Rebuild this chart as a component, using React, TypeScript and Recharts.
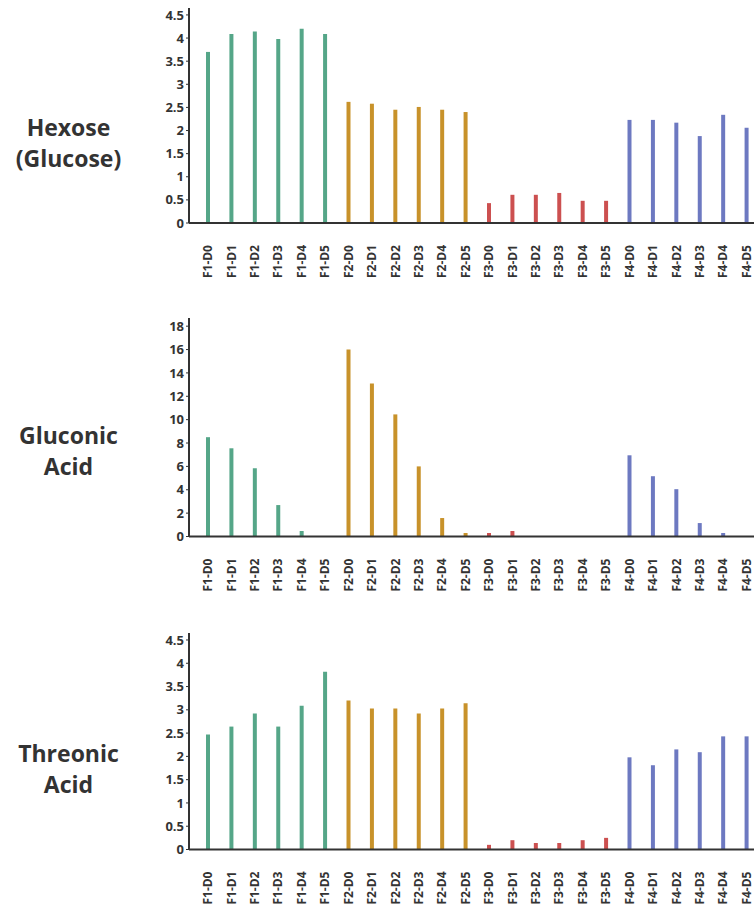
import { BarChart, Bar, XAxis, YAxis, Cell } from "recharts";

const categories = [
  "F1-D0", "F1-D1", "F1-D2", "F1-D3", "F1-D4", "F1-D5",
  "F2-D0", "F2-D1", "F2-D2", "F2-D3", "F2-D4", "F2-D5",
  "F3-D0", "F3-D1", "F3-D2", "F3-D3", "F3-D4", "F3-D5",
  "F4-D0", "F4-D1", "F4-D2", "F4-D3", "F4-D4", "F4-D5",
];

const hexose = [
  3.7, 4.09, 4.14, 3.98, 4.2, 4.09,
  2.62, 2.58, 2.45, 2.51, 2.45, 2.4,
  0.43, 0.61, 0.61, 0.65, 0.48, 0.48,
  2.23, 2.23, 2.17, 1.88, 2.34, 2.06,
];

const gluconic = [
  8.5, 7.55, 5.85, 2.69, 0.47, 0,
  16.0, 13.1, 10.45, 6.0, 1.58, 0.3,
  0.3, 0.47, 0, 0, 0, 0,
  6.95, 5.16, 4.05, 1.15, 0.3, 0,
];

const threonic = [
  2.47, 2.64, 2.92, 2.64, 3.09, 3.82,
  3.2, 3.03, 3.03, 2.92, 3.03, 3.14,
  0.1, 0.2, 0.14, 0.14, 0.2, 0.25,
  1.98, 1.81, 2.15, 2.09, 2.43, 2.43,
];

const halfTicks = [0, 0.5, 1, 1.5, 2, 2.5, 3, 3.5, 4, 4.5];
const evenTicks = [0, 2, 4, 6, 8, 10, 12, 14, 16, 18];

const groupColors: Record<string, string> = {
  F1: "#55A688",
  F2: "#C8922A",
  F3: "#CC5050",
  F4: "#6D79C1",
};

const FONT = "'Open Sans', sans-serif";
const INK = "#333";

function XTick({ x, y, payload }: any) {
  return (
    <text
      x={x}
      y={y}
      transform={`rotate(-90, ${x}, ${y})`}
      textAnchor="end"
      dominantBaseline="central"
      fontFamily={FONT}
      fontWeight={700}
      fontSize={12}
      fill={INK}
    >
      {payload.value}
    </text>
  );
}

function Panel({ top, title, values, ticks, yMax, plotHeight, titleTop }: any) {
  const data = categories.map((c, i) => ({ name: c, value: values[i] }));
  return (
    <>
      <div
        style={{
          position: "absolute",
          top: titleTop,
          left: 0,
          width: 137,
          textAlign: "center",
          fontFamily: FONT,
          fontWeight: 700,
          fontSize: 23,
          lineHeight: "31px",
          color: INK,
        }}
      >
        {title.map((t: string) => (
          <div key={t}>{t}</div>
        ))}
      </div>
      <div style={{ position: "absolute", top, left: 0 }}>
        <BarChart
          width={758}
          height={8 + plotHeight + 60}
          data={data}
          margin={{ top: 8, right: 0, bottom: 0, left: 0 }}
        >
          <XAxis
            dataKey="name"
            interval={0}
            height={60}
            padding={{ left: 7, right: 0 }}
            axisLine={{ stroke: INK, strokeWidth: 2 }}
            tickLine={false}
            tickSize={0}
            tickMargin={22}
            tick={<XTick />}
          />
          <YAxis
            width={189}
            domain={[0, yMax]}
            ticks={ticks}
            interval={0}
            axisLine={{ stroke: INK, strokeWidth: 2 }}
            tickLine={{ stroke: INK }}
            tickSize={3}
            tickMargin={2}
            tick={{ fill: INK, fontSize: 13, fontWeight: 700, fontFamily: FONT }}
          />
          <Bar dataKey="value" barSize={4} isAnimationActive={false}>
            {data.map((d) => (
              <Cell key={d.name} fill={groupColors[d.name.slice(0, 2)]} />
            ))}
          </Bar>
        </BarChart>
      </div>
    </>
  );
}

export default function App() {
  return (
    <div
      style={{
        position: "absolute",
        top: 0,
        left: 0,
        width: 754,
        height: 909,
        overflow: "hidden",
        background: "#fff",
      }}
    >
      <Panel top={0} titleTop={112} title={["Hexose", "(Glucose)"]} values={hexose} ticks={halfTicks} yMax={4.65} plotHeight={215} />
      <Panel top={310} titleTop={420} title={["Gluconic", "Acid"]} values={gluconic} ticks={evenTicks} yMax={18.7} plotHeight={218.5} />
      <Panel top={625} titleTop={738} title={["Threonic", "Acid"]} values={threonic} ticks={halfTicks} yMax={4.65} plotHeight={216.5} />
    </div>
  );
}
